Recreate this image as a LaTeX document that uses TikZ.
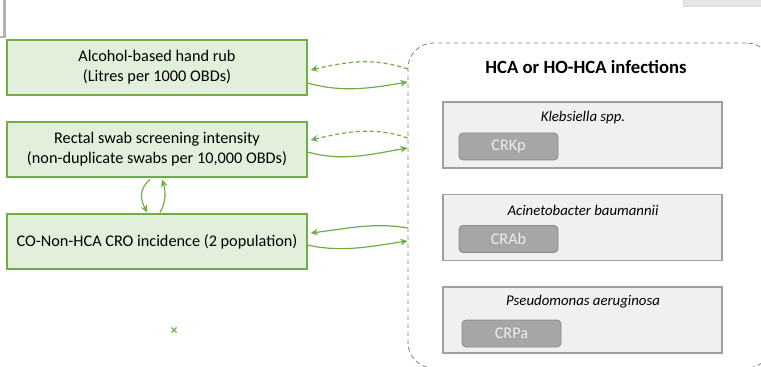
\documentclass[tikz,border=0pt]{standalone}
\usepackage{fontspec}
\setmainfont{Carlito}
\usetikzlibrary{arrows.meta,calc}
\definecolor{grnfill}{RGB}{226,239,218}
\definecolor{grnline}{RGB}{112,173,71}
\definecolor{boxfill}{RGB}{240,240,240}
\definecolor{boxline}{RGB}{160,160,160}
\definecolor{pillfill}{RGB}{166,166,166}
\definecolor{pillline}{RGB}{137,137,137}
\definecolor{dashline}{RGB}{128,128,128}
\begin{document}
\begin{tikzpicture}[x=.75pt,y=-.75pt,
  factor/.style={draw=grnline,fill=grnfill,line width=0.8pt,minimum width=225pt,minimum height=41.25pt,inner sep=0pt,align=center,font=\fontsize{12.2}{15}\selectfont},
  group/.style={draw=dashline,line width=0.6pt,dash pattern=on 3.5pt off 2.5pt,rounded corners=19pt,minimum width=273pt,minimum height=243.75pt,inner sep=0pt},
  species/.style={draw=boxline,fill=boxfill,line width=0.9pt,minimum width=209.25pt,minimum height=49.5pt,inner sep=0pt},
  sptext/.style={inner sep=0pt,font=\itshape\fontsize{11.1}{13}\selectfont},
  pill/.style={draw=pillline,fill=pillfill,line width=0.6pt,rounded corners=3pt,minimum width=74.25pt,minimum height=20.25pt,inner sep=0pt,text=white!93!black,font=\fontsize{12.2}{14}\selectfont},
  link/.style={draw=grnline,line width=0.9pt,-{Stealth[length=5.5pt,width=5pt]}},
  weak/.style={link,dash pattern=on 3pt off 2.2pt}]
\useasboundingbox (0,0) rectangle (761,367);
\draw[draw=black!30,line width=2pt] (4.5,0) -- (4.5,37) -- (0,37);
\path[fill=black!10,draw=black!15,line width=0.5pt] (683,-2) rectangle (763,6);
\node[factor] (alc) at (157,67.5) {Alcohol-based hand rub\\(Litres per 1000 OBDs)};
\node[factor] (swab) at (157,149.5) {Rectal swab screening intensity\\(non-duplicate swabs per 10,000 OBDs)};
\node[factor] (co) at (157,241.5) {CO-Non-HCA CRO incidence (2 population)};
\node[group] (hca) at (590,205.5) {};
\node[inner sep=0pt,font=\bfseries\fontsize{14}{16}\selectfont] (title) at (586,67) {HCA or HO-HCA infections};
\node[species] (kleb) at (582.5,135) {};
\node[sptext] (klebtxt) at (583,118) {Klebsiella spp.};
\node[pill] (crkp) at (508.5,146.5) {CRKp};
\node[species] (acin) at (582.5,227.5) {};
\node[sptext] (acintxt) at (583,210) {Acinetobacter baumannii};
\node[pill] (crab) at (508.5,239) {CRAb};
\node[species] (pseu) at (582.5,320) {};
\node[sptext] (pseutxt) at (583,302) {Pseudomonas aeruginosa};
\node[pill] (crpa) at (511.5,333.5) {CRPa};
\path[weak] ($(hca.west |- alc.east)+(0,1.5)$) .. controls +(-35,-12) and +(35,-8) .. ($(alc.east)+(3,2.5)$);
\path[link] ($(alc.east)+(0,15.5)$) .. controls +(35,10) and +(-35,6) .. ($(hca.west |- alc.east)+(0,14.5)$);
\path[weak] ($(hca.west |- swab.east)+(0,-11.5)$) .. controls +(-35,-12) and +(35,-8) .. ($(swab.east)+(3,-9.5)$);
\path[link] ($(swab.east)+(0,2.5)$) .. controls +(35,10) and +(-35,6) .. ($(hca.west |- swab.east)+(0,-1.5)$);
\path[link] ($(hca.west |- co.east)+(0,-13.5)$) .. controls +(-35,-6) and +(35,-4) .. ($(co.east)+(3,-8.5)$);
\path[link] ($(co.east)+(0,3.5)$) .. controls +(35,8) and +(-35,5) .. ($(hca.west |- co.east)+(0,-0.5)$);
\path[link] ($(swab.south)+(-7,2)$) .. controls +(-12,10) and +(-6,-12) .. ($(co.north)+(-10,-1)$);
\path[link] ($(co.north)+(3,-1)$) .. controls +(6,-10) and +(4,12) .. ($(swab.south)+(5,2)$);
\draw[draw=grnline,line width=0.8pt] (171.5,327.5) -- (176.5,332.5) (171.5,332.5) -- (176.5,327.5);
\end{tikzpicture}
\end{document}
